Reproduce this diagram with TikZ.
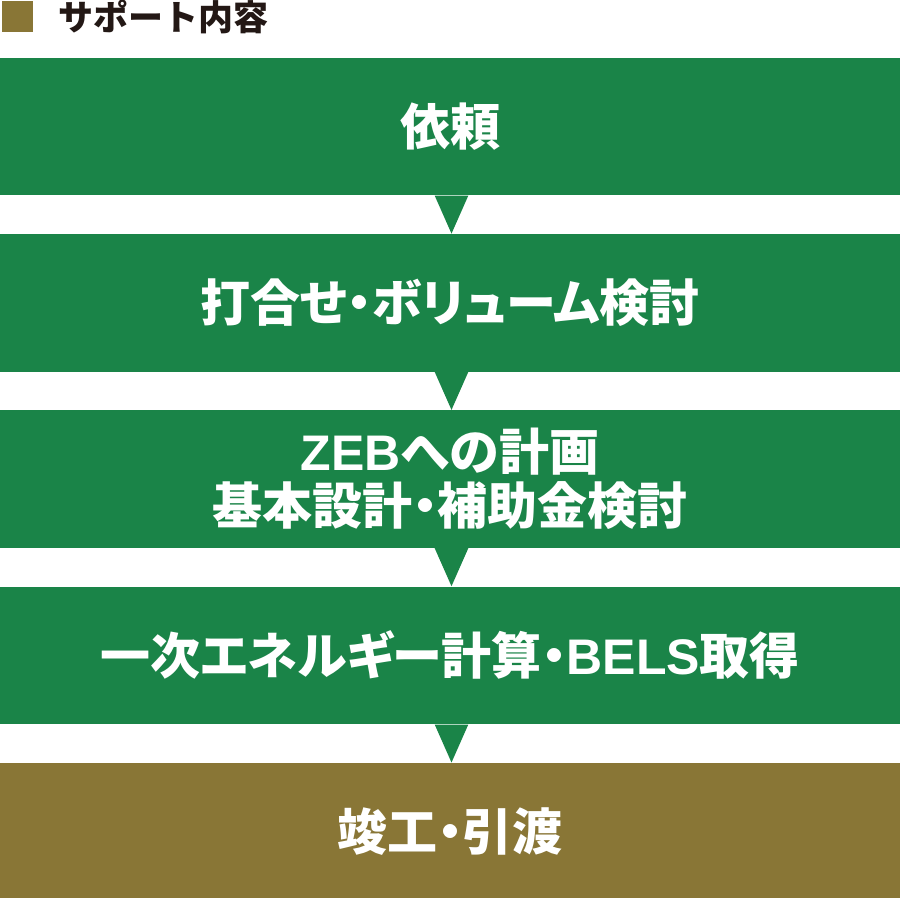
\documentclass[tikz,border=0pt]{standalone}
\usepackage{fontspec}
\newfontfamily\jp{Noto Sans CJK JP}[RawFeature=+palt]
\newfontfamily\jptitle{Noto Sans CJK JP}
\newfontfamily\lat{Liberation Sans}
\usetikzlibrary{positioning}

\definecolor{stepgreen}{RGB}{26,132,72}
\definecolor{stepolive}{RGB}{137,118,54}
\definecolor{titleink}{RGB}{35,24,21}

\tikzset{
	stepbox/.style={fill=stepgreen, text=white, minimum width=450pt, minimum height=68.75pt,
		inner sep=0pt, align=center, font=\jp\bfseries\fontsize{25}{27}\selectfont},
	lastbox/.style={stepbox, fill=stepolive}
}

\begin{document}
\begin{tikzpicture}[x=0.5pt,y=0.5pt]
	\useasboundingbox (0,0) rectangle (900,898);

	%Draws the heading with its square mark
	\node[fill=stepolive, minimum size=15.5pt, inner sep=0pt] (mark) at (17.5,881.5) {};
	\node[anchor=west, text=titleink, inner sep=0pt, font=\jptitle\bfseries\fontsize{17.5}{20}\selectfont] (heading) at (58,881) {サポート内容};

	%Draws the steps from top to bottom
	\node[stepbox] (irai) at (450,771.5) {依頼};
	\node[stepbox, below=19pt of irai] (uchiawase) {打合せ・ボリューム検討};
	\node[stepbox, below=19pt of uchiawase] (keikaku) {{\lat ZEB}への計画\\基本設計・補助金検討};
	\node[stepbox, below=19pt of keikaku] (keisan) {一次エネルギー計算・{\lat BELS}取得};
	\node[lastbox, below=19pt of keisan] (hikiwatashi) {竣工・引渡};

	%Draws the pointers between the steps
	\foreach \a/\b in {irai/uchiawase, uchiawase/keikaku, keikaku/keisan, keisan/hikiwatashi}
		\fill[stepgreen] ([xshift=-7.65pt]\a.south) -- ([xshift=9.15pt]\a.south) -- ([xshift=0.75pt]\b.north) -- cycle;
\end{tikzpicture}
\end{document}
